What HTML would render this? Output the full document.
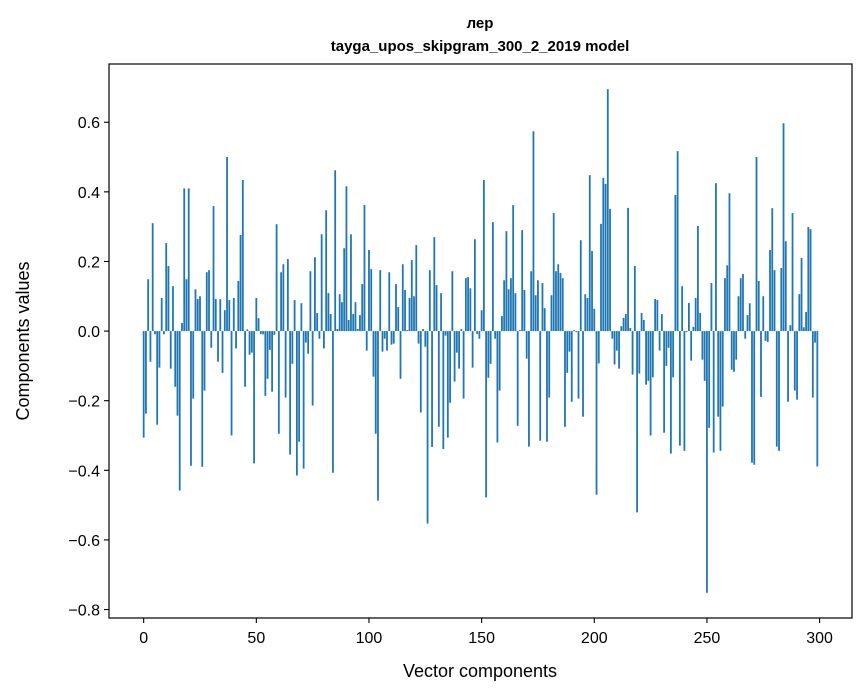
<!DOCTYPE html>
<html><head><meta charset="utf-8"><style>
body{margin:0;background:#fff}
svg{display:block;font-family:"Liberation Sans","DejaVu Sans",sans-serif}
</style></head><body>
<svg id="chart" width="867" height="696" viewBox="0 0 867 696">
<rect width="867" height="696" fill="#fff"/>
<text x="480" y="28" text-anchor="middle" font-size="15" font-weight="bold">лер</text>
<text x="480" y="51" text-anchor="middle" font-size="15" font-weight="bold">tayga_upos_skipgram_300_2_2019 model</text>
<g id="bars"></g>
<g id="xticks"></g>
<g id="yticks"></g>
<rect x="109" y="64" width="743" height="554" fill="none" stroke="#000" stroke-width="1.2"/>
<text x="480" y="677" text-anchor="middle" font-size="18">Vector components</text>
<text transform="translate(29,341) rotate(-90)" text-anchor="middle" font-size="18">Components values</text>
</svg>
<script>
const values = [
-0.306,-0.237,0.149,-0.088,0.31,-0.009,-0.269,-0.105,0.095,-0.009,
0.253,0.187,-0.108,0.129,-0.16,-0.243,-0.458,0.023,0.41,0.149,
0.41,-0.387,-0.194,0.12,0.092,0.1,-0.39,-0.171,0.169,0.175,
-0.048,0.359,0.092,-0.088,0.092,-0.12,0.06,0.5,0.089,-0.3,
0.095,-0.05,0.144,0.276,0.434,-0.16,0.005,-0.068,-0.062,-0.38,
0.095,0.037,-0.009,-0.009,-0.186,-0.137,-0.054,-0.174,-0.011,0.307,
-0.295,0.169,0.192,-0.191,0.207,-0.355,-0.094,0.089,-0.415,-0.318,
0.08,-0.395,-0.033,-0.065,0.172,-0.214,0.212,0.052,-0.022,0.278,
-0.05,0.347,0.109,0.049,-0.407,0.462,0.006,0.106,0.083,0.238,
0.416,0.032,0.278,0.049,0.083,0.006,0.046,0.135,0.362,-0.056,
0.233,0.178,-0.131,-0.295,-0.487,0.175,-0.059,-0.022,-0.056,0.169,
-0.039,-0.036,0.135,0.069,-0.137,0.192,0.118,0.003,0.095,0.204,
0.1,0.247,-0.036,-0.234,0.006,-0.045,-0.553,0.175,-0.333,0.27,
0.132,-0.275,0.109,-0.339,-0.013,-0.306,-0.206,0.172,-0.145,-0.062,
-0.108,0.006,-0.194,0.152,0.155,0.123,-0.105,0.264,-0.008,-0.022,
0.06,0.434,-0.478,-0.134,-0.094,0.313,-0.022,-0.32,-0.171,0.043,
0.146,0.287,0.12,0.152,0.362,0.109,-0.272,0.003,0.29,0.118,
-0.079,-0.332,0.172,0.574,0.103,0.146,-0.315,0.138,0.066,-0.318,
-0.191,0.103,0.339,0.172,0.192,0.167,0.152,-0.275,-0.12,-0.059,
-0.203,0.003,-0.003,-0.194,0.261,-0.246,0.106,0.095,0.448,0.23,
0.064,-0.47,-0.093,0.308,0.44,0.423,0.695,0.351,-0.022,-0.096,
-0.056,-0.108,0.014,0.038,0.049,0.354,0.009,-0.125,0.187,-0.521,
-0.122,0.052,0.032,-0.154,-0.143,-0.3,-0.133,0.092,0.089,-0.056,
0.049,-0.292,-0.1,-0.048,-0.352,-0.133,0.391,0.517,-0.329,0.129,
-0.344,-0.003,0.081,-0.085,0.012,0.095,0.302,0.052,-0.082,-0.143,
-0.752,-0.278,0.138,-0.349,0.425,-0.246,-0.344,-0.217,0.152,0.189,
0.396,-0.111,-0.117,-0.082,0.1,0.152,0.164,-0.022,0.046,0.08,
-0.378,-0.384,0.5,0.144,-0.189,0.1,-0.028,-0.031,0.233,0.353,
0.175,-0.332,-0.344,0.181,0.597,0.258,-0.203,0.017,0.339,-0.171,
-0.197,0.106,0.21,0.011,0.055,0.299,0.293,-0.191,-0.033,-0.389
];
const xTickLabels = ["0","50","100","150","200","250","300"];
const yTickLabels = ["−0.8","−0.6","−0.4","−0.2","0.0","0.2","0.4","0.6"];

const NS="http://www.w3.org/2000/svg";
const L=109,R=852,T=64,B=618;
const n=values.length;
let vmax=Math.max(...values),vmin=Math.min(...values);
const xmin=-0.4-0.05*(n-1+0.8),xmax=n-1+0.4+0.05*(n-1+0.8);
const ymin=Math.min(0,vmin)-0.05*(Math.max(0,vmax)-Math.min(0,vmin));
const ymax=Math.max(0,vmax)+0.05*(Math.max(0,vmax)-Math.min(0,vmin));
const xs=v=>L+(v-xmin)/(xmax-xmin)*(R-L);
const ys=v=>B-(v-ymin)/(ymax-ymin)*(B-T);
const bars=document.getElementById('bars');
values.forEach((v,i)=>{
  const r=document.createElementNS(NS,'rect');
  const x0=xs(i-0.4),x1=xs(i+0.4);
  const y0=ys(Math.max(0,v)),y1=ys(Math.min(0,v));
  r.setAttribute('x',x0);r.setAttribute('width',x1-x0);
  r.setAttribute('y',y0);r.setAttribute('height',Math.max(0.3,y1-y0));
  r.setAttribute('fill','#1f77b4');
  
  
  bars.appendChild(r);
});
const xt=document.getElementById('xticks');
xTickLabels.forEach(l=>{
  const v=parseFloat(l),x=xs(v);
  const ln=document.createElementNS(NS,'line');
  ln.setAttribute('x1',x);ln.setAttribute('x2',x);ln.setAttribute('y1',B);ln.setAttribute('y2',B+5);
  ln.setAttribute('stroke','#000');ln.setAttribute('stroke-width','1.1');
  
  
  xt.appendChild(ln);
  const t=document.createElementNS(NS,'text');
  t.setAttribute('x',x);t.setAttribute('y',B+25);t.setAttribute('text-anchor','middle');t.setAttribute('font-size','16');
  t.textContent=l;
  
  
  xt.appendChild(t);
});
const yt=document.getElementById('yticks');
yTickLabels.forEach(l=>{
  const v=parseFloat(l.replace('−','-')),y=ys(v);
  const ln=document.createElementNS(NS,'line');
  ln.setAttribute('x1',L-5);ln.setAttribute('x2',L);ln.setAttribute('y1',y);ln.setAttribute('y2',y);
  ln.setAttribute('stroke','#000');ln.setAttribute('stroke-width','1.1');
  
  
  yt.appendChild(ln);
  const t=document.createElementNS(NS,'text');
  t.setAttribute('x',L-9);t.setAttribute('y',y+6);t.setAttribute('text-anchor','end');t.setAttribute('font-size','16');
  t.textContent=l;
  
  
  yt.appendChild(t);
});
</script>
</body></html>
